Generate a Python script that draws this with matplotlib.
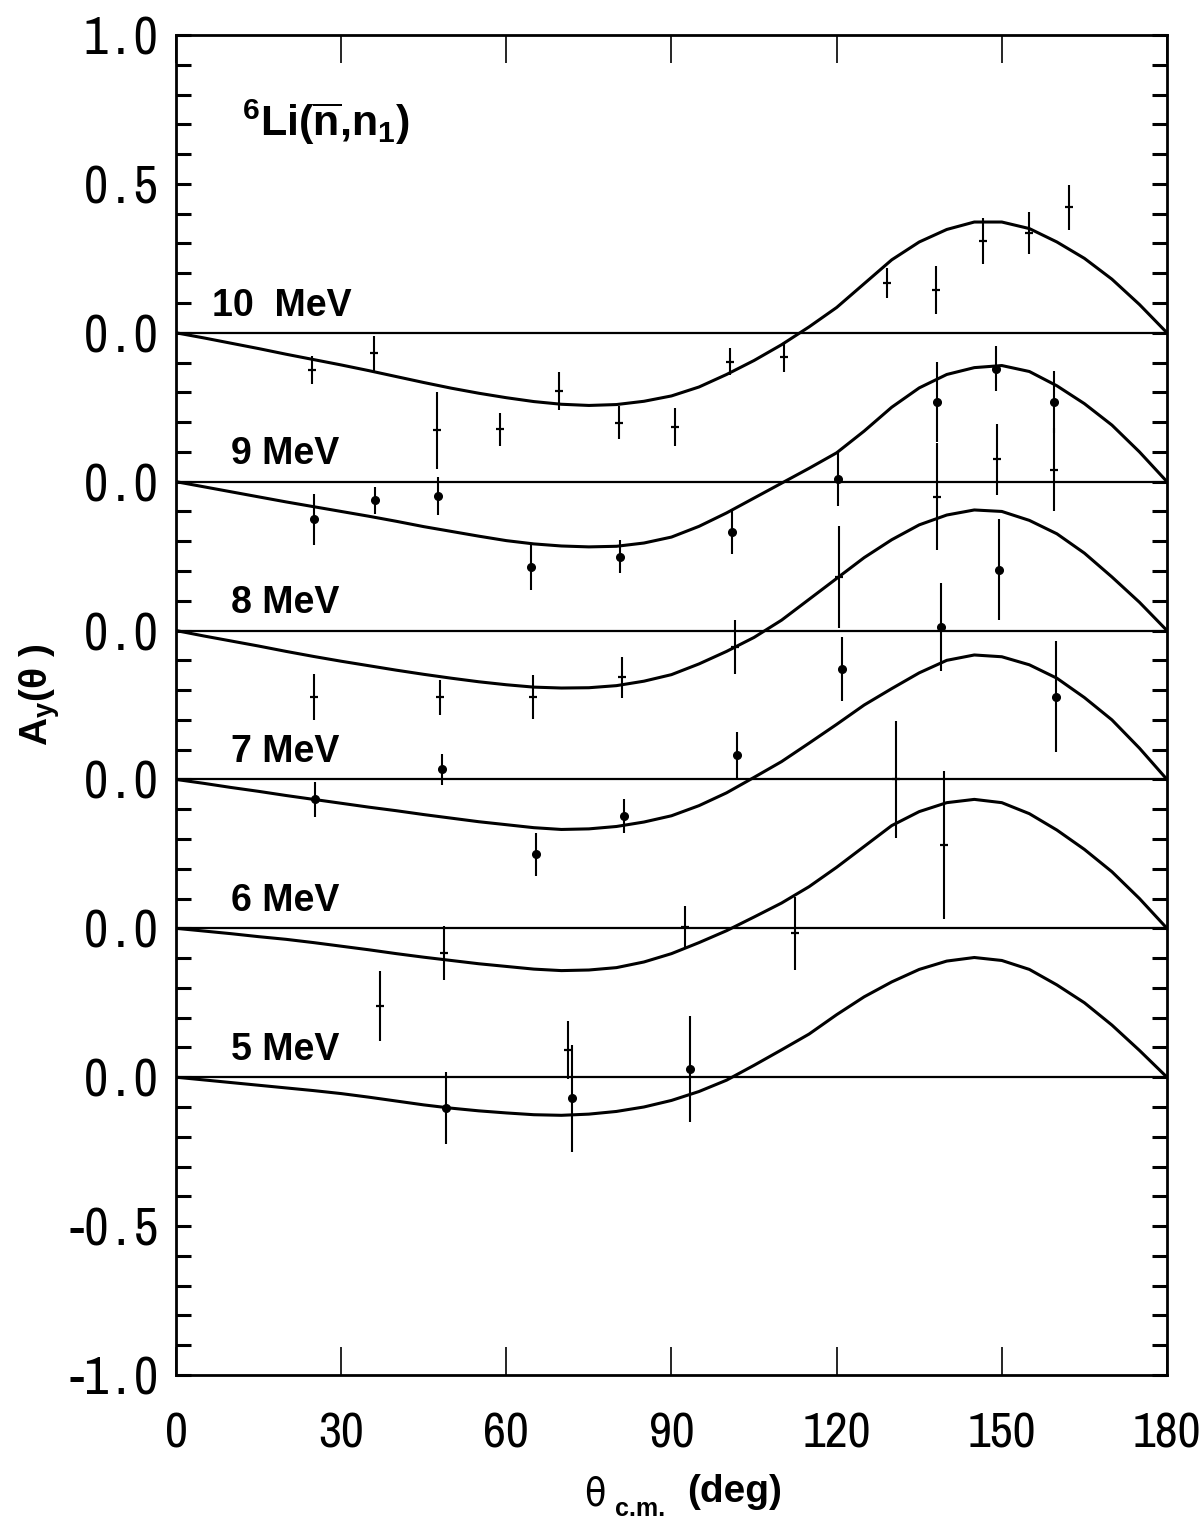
import matplotlib
matplotlib.use("Agg")
import matplotlib.pyplot as plt
from matplotlib.ticker import FixedLocator, FixedFormatter, MultipleLocator

# stacked 6Li(n,n1) analyzing power, each energy shifted up by 0.5
ENERGY_LABELS = ["5 MeV", "6 MeV", "7 MeV", "8 MeV", "9 MeV", "10  MeV"]
OFFSETS = [0.0, 0.5, 1.0, 1.5, 2.0, 2.5]

# calculated curves (theta in deg, Ay)
CURVE_ANGLES = list(range(0, 181, 5))
CURVE_5 = [0, -0.009, -0.018, -0.027, -0.036, -0.045, -0.055, -0.067, -0.080,
           -0.093, -0.104, -0.113, -0.120, -0.126, -0.128, -0.124, -0.115,
           -0.100, -0.078, -0.048, -0.010, 0.040, 0.092, 0.145, 0.210, 0.270,
           0.320, 0.362, 0.390, 0.402, 0.392, 0.362, 0.310, 0.250, 0.175,
           0.090, 0]
CURVE_6 = [0, -0.009, -0.018, -0.028, -0.037, -0.048, -0.060, -0.072, -0.085,
           -0.097, -0.108, -0.119, -0.128, -0.137, -0.142, -0.140, -0.132,
           -0.113, -0.085, -0.048, -0.008, 0.038, 0.085, 0.140, 0.205, 0.275,
           0.345, 0.392, 0.422, 0.433, 0.422, 0.385, 0.330, 0.265, 0.190,
           0.100, 0]
CURVE_7 = [0, -0.013, -0.027, -0.040, -0.054, -0.067, -0.080, -0.093, -0.105,
           -0.118, -0.130, -0.142, -0.152, -0.162, -0.168, -0.166, -0.158,
           -0.143, -0.122, -0.088, -0.045, 0.007, 0.060, 0.122, 0.185, 0.250,
           0.305, 0.358, 0.400, 0.418, 0.412, 0.385, 0.340, 0.275, 0.200,
           0.105, 0]
CURVE_8 = [0, -0.018, -0.035, -0.052, -0.070, -0.087, -0.103, -0.118, -0.133,
           -0.147, -0.160, -0.172, -0.182, -0.190, -0.193, -0.192, -0.185,
           -0.170, -0.148, -0.112, -0.070, -0.023, 0.035, 0.105, 0.175, 0.245,
           0.305, 0.355, 0.388, 0.405, 0.400, 0.370, 0.325, 0.260, 0.180,
           0.095, 0]
CURVE_9 = [0, -0.017, -0.034, -0.051, -0.068, -0.084, -0.100, -0.116, -0.133,
           -0.151, -0.167, -0.183, -0.198, -0.209, -0.216, -0.219, -0.217,
           -0.206, -0.186, -0.150, -0.105, -0.055, -0.005, 0.045, 0.097,
           0.170, 0.250, 0.315, 0.360, 0.383, 0.390, 0.370, 0.322, 0.262,
           0.190, 0.100, 0]
CURVE_10 = [0, -0.017, -0.035, -0.053, -0.072, -0.090, -0.108, -0.127,
            -0.147, -0.167, -0.186, -0.203, -0.218, -0.231, -0.240, -0.244,
            -0.241, -0.230, -0.212, -0.182, -0.140, -0.093, -0.040, 0.020,
            0.085, 0.165, 0.245, 0.305, 0.347, 0.372, 0.372, 0.350, 0.305,
            0.250, 0.180, 0.095, 0]
CURVES = [CURVE_5, CURVE_6, CURVE_7, CURVE_8, CURVE_9, CURVE_10]

# measured points, filled symbols
DOT_ANGLES = [
    [49.1, 71.9, 93.3],
    [],
    [25.3, 48.3, 65.3, 81.3, 101.9],
    [121.0, 138.9, 149.4, 159.8],
    [25.0, 36.2, 47.6, 64.4, 80.6, 101.0, 120.3, 138.2, 148.9, 159.4],
    [],
]
DOT_AY = [
    [-0.104, -0.071, 0.027],
    [],
    [-0.067, 0.034, -0.252, -0.123, 0.082],
    [-0.129, 0.011, 0.205, -0.222],
    [-0.127, -0.062, -0.048, -0.288, -0.252, -0.168, 0.008, 0.268, 0.380,
     0.268],
    [],
]
DOT_ERR = [
    [0.120, 0.180, 0.178],
    [],
    [0.058, 0.052, 0.071, 0.058, 0.078],
    [0.106, 0.148, 0.170, 0.187],
    [0.084, 0.045, 0.063, 0.076, 0.055, 0.076, 0.090, 0.135, 0.075, 0.105],
    [],
]

# measured points, plain crosses
CROSS_ANGLES = [
    [71.2],
    [37.1, 48.7, 92.5, 112.5, 139.5],
    [130.7],
    [25.1, 47.9, 64.8, 81.0, 101.6, 120.4, 138.3, 149.1, 159.5],
    [],
    [24.7, 36.0, 47.4, 58.8, 69.5, 80.4, 90.7, 100.7, 110.5, 129.2, 138.0,
     146.5, 155.0, 162.2],
]
CROSS_AY = [
    [0.091],
    [-0.261, -0.082, 0.003, -0.017, 0.280],
    [0.000],
    [-0.224, -0.224, -0.224, -0.157, -0.056, 0.180, 0.450, 0.575, 0.540],
    [],
    [-0.125, -0.069, -0.327, -0.324, -0.195, -0.302, -0.316, -0.097, -0.081,
     0.168, 0.143, 0.308, 0.334, 0.421],
]
CROSS_ERR = [
    [0.098],
    [0.118, 0.090, 0.073, 0.123, 0.250],
    [0.195],
    [0.077, 0.058, 0.074, 0.069, 0.090, 0.170, 0.180, 0.120, 0.140],
    [],
    [0.048, 0.059, 0.129, 0.056, 0.064, 0.056, 0.063, 0.045, 0.050, 0.050,
     0.080, 0.078, 0.070, 0.077],
]

Y_TICKS = [-1.0, -0.5, 0.0, 0.5, 1.0, 1.5, 2.0, 2.5, 3.0, 3.5]
Y_TICK_LABELS = ["-1.0", "-0.5", "0.0", "0.0", "0.0", "0.0", "0.0", "0.0",
                 "0.5", "1.0"]
X_TICKS = [0, 30, 60, 90, 120, 150, 180]

NARROW = ["Archivo Narrow", "DejaVu Sans"]
BOLD = ["Liberation Sans", "DejaVu Sans"]
THIN = "\u2009"

plt.rcParams["mathtext.fontset"] = "custom"
plt.rcParams["mathtext.rm"] = "Liberation Sans:bold"
plt.rcParams["mathtext.it"] = "Liberation Sans:bold"
plt.rcParams["mathtext.bf"] = "Liberation Sans:bold"

fig = plt.figure(figsize=(11.99, 15.23), dpi=100)
ax = fig.add_axes([0.1468, 0.0972, 0.8265, 0.8798])

for off, curve in zip(OFFSETS, CURVES):
    ax.axhline(off, color="black", lw=1.6, zorder=1)
    ax.plot(CURVE_ANGLES, [v + off for v in curve], color="black", lw=2.2,
            zorder=2)

for i, off in enumerate(OFFSETS):
    if DOT_ANGLES[i]:
        ax.errorbar(DOT_ANGLES[i], [v + off for v in DOT_AY[i]],
                    yerr=DOT_ERR[i], fmt="o", ms=5.5, color="black",
                    elinewidth=1.5, capsize=0, zorder=3)
    if CROSS_ANGLES[i]:
        ax.errorbar(CROSS_ANGLES[i], [v + off for v in CROSS_AY[i]],
                    yerr=CROSS_ERR[i], fmt="_", ms=6, mew=1.6, color="black",
                    elinewidth=1.5, capsize=0, zorder=3)

for i, (off, label) in enumerate(zip(OFFSETS, ENERGY_LABELS)):
    x_lab = 6.5 if i == len(OFFSETS) - 1 else 10.0
    ax.text(x_lab, off + 0.058, label, fontsize=27, fontweight="bold",
            family=BOLD, va="baseline", ha="left")

ax.text(12.0, 3.16, r"$^{6}$Li($\overline{\rm n}$,n$_{\rm 1}$)", fontsize=31,
        fontweight="bold", family=BOLD, va="baseline", ha="left")

ax.set_xlim(0, 180)
ax.set_ylim(-1.0, 3.5)

# spaced-out decimal point on the y labels
spaced = [lab.replace(".", THIN + "." + THIN) for lab in Y_TICK_LABELS]
ax.xaxis.set_major_locator(FixedLocator(X_TICKS))
ax.yaxis.set_major_locator(FixedLocator(Y_TICKS))
ax.yaxis.set_major_formatter(FixedFormatter(spaced))
ax.yaxis.set_minor_locator(MultipleLocator(0.1))

ax.tick_params(axis="x", which="major", direction="in", length=20, width=1.2,
               top=True, bottom=True, pad=26, labelsize=36)
ax.tick_params(axis="y", which="both", direction="in", length=11, width=2.2,
               left=True, right=True, pad=13, labelsize=38)
for lab in ax.get_xticklabels() + ax.get_yticklabels():
    lab.set_family(NARROW)

for spine in ax.spines.values():
    spine.set_linewidth(2.0)

fig.text(0.033, 0.544, r"A$_{\rm y}$(θ )", rotation=90, fontsize=28,
         fontweight="bold", family=BOLD, ha="center", va="center")

fig.text(0.496, 0.0184, "θ", fontsize=28, family=["DejaVu Sans"],
         fontstretch="condensed", ha="center", va="center")
fig.text(0.513, 0.0046, "c.m.", fontsize=18, fontweight="bold", family=BOLD,
         ha="left", va="baseline")
fig.text(0.573, 0.0205, "(deg)", fontsize=28, fontweight="bold", family=BOLD,
         ha="left", va="center")

fig.savefig("out.png", dpi=100)
